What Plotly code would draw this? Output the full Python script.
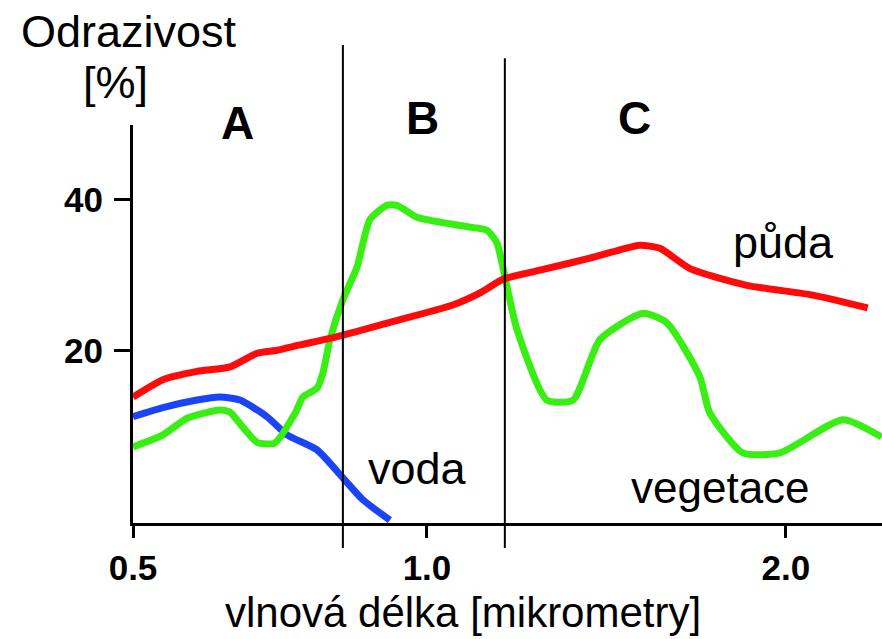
import numpy as np
import plotly.graph_objects as go

# spectral reflectance curves (wavelength in micrometres, reflectance in %)
puda_wl = [0.50, 0.551, 0.609, 0.665, 0.711, 0.745, 0.784, 0.847, 0.932, 1.072, 1.148, 1.212,
           1.315, 1.454, 1.538, 1.593, 1.649, 1.733, 1.891, 2.075, 2.228]
puda_r = [13.9, 16.2, 17.3, 17.9, 19.7, 20.1, 20.8, 21.9, 23.7, 26.1, 27.7, 29.5,
          30.7, 32.3, 33.4, 34.0, 33.6, 30.9, 28.7, 27.4, 25.7]

voda_wl = [0.50, 0.551, 0.609, 0.648, 0.682, 0.728, 0.762, 0.813, 0.857, 0.891, 0.937]
voda_r = [11.3, 12.5, 13.5, 13.9, 13.5, 11.3, 8.9, 6.9, 3.2, 0.3, -2.4]

veg_wl = [0.50, 0.551, 0.592, 0.648, 0.665, 0.687, 0.711, 0.741, 0.776, 0.789, 0.813, 0.823,
          0.835, 0.857, 0.881, 0.903, 0.932, 0.949, 0.983, 1.045, 1.120, 1.167, 1.195, 1.212,
          1.251, 1.334, 1.407, 1.482, 1.602, 1.669, 1.760, 1.788, 1.880, 1.983, 2.159, 2.267]
veg_r = [7.3, 8.9, 11.1, 12.2, 11.9, 9.9, 7.9, 7.8, 11.8, 13.9, 15.1, 17.1,
         21.5, 26.8, 31.1, 37.4, 39.3, 39.3, 37.7, 37.0, 36.4, 36.0, 34.3, 31.0,
         22.8, 13.5, 13.5, 21.5, 25.0, 23.7, 16.6, 11.8, 6.5, 6.5, 10.9, 8.6]

region_bounds = [0.857, 1.217]
x_ticks = [0.5, 1.0, 2.0]
x_tick_text = ["0.5", "1.0", "2.0"]
y_ticks = [20, 40]


# the original axis is stretched differently below and above 1.0 um
def axis_pos(w):
    w = np.asarray(w, dtype=float)
    return np.where(w <= 1.0, (w - 0.5) * 2.0, 1.0 + (w - 1.0) * 1.221)


fig = go.Figure()
for wl, r, col in [(voda_wl, voda_r, "#1a44f5"),
                   (veg_wl, veg_r, "#38ee12"),
                   (puda_wl, puda_r, "#ff0a0a")]:
    fig.add_trace(go.Scatter(x=axis_pos(wl), y=r, mode="lines",
                             line=dict(color=col, width=7, shape="spline", smoothing=0.6),
                             showlegend=False, hoverinfo="skip"))

for xb, top in zip(region_bounds, [1.201, 1.168]):
    p = float(axis_pos(xb))
    fig.add_shape(type="line", xref="x", yref="paper", x0=p, x1=p, y0=-0.063, y1=top,
                  line=dict(color="black", width=2))

txt = dict(family="Liberation Sans, Arial, sans-serif", color="black")
notes = [
    ("Odrazivost", -0.005, 1.234, 45, "normal"),
    ("[%]", -0.024, 1.106, 45, "normal"),
    ("A", 0.139, 1.005, 46, "bold"),
    ("B", 0.387, 1.018, 46, "bold"),
    ("C", 0.670, 1.018, 46, "bold"),
    ("voda", 0.380, 0.138, 45, "normal"),
    ("půda", 0.869, 0.704, 45, "normal"),
    ("vegetace", 0.785, 0.090, 44, "normal"),
    ("vlnová délka [mikrometry]", 0.441, -0.224, 42, "normal"),
]
for t, x, y, s, w in notes:
    fig.add_annotation(text=t, x=x, y=y, xref="paper", yref="paper", showarrow=False,
                       xanchor="center", yanchor="middle",
                       font=dict(size=s, weight=w, **txt))

fig.update_layout(
    width=882, height=639,
    margin=dict(l=133, r=0, t=125, b=116),
    paper_bgcolor="white", plot_bgcolor="white",
    xaxis=dict(range=[0, 2.548], showgrid=False, zeroline=False,
               showline=True, linecolor="black", linewidth=3,
               tickvals=axis_pos(x_ticks), ticktext=x_tick_text,
               ticks="outside", ticklen=12, tickwidth=3, tickcolor="black",
               tickfont=dict(size=35, weight="bold", **txt)),
    yaxis=dict(range=[-2.78, 49.93], showgrid=False, zeroline=False,
               showline=True, linecolor="black", linewidth=3,
               tickvals=y_ticks, ticks="outside", ticklen=16, tickwidth=3,
               tickcolor="black", ticklabelstandoff=4,
               tickfont=dict(size=35, weight="bold", **txt)),
)

# drop the page's default body margin so the figure fills the window exactly
fig.write_html("out.html", config={"displayModeBar": False},
               post_script="document.body.style.margin='0';document.body.style.overflow='hidden';")
